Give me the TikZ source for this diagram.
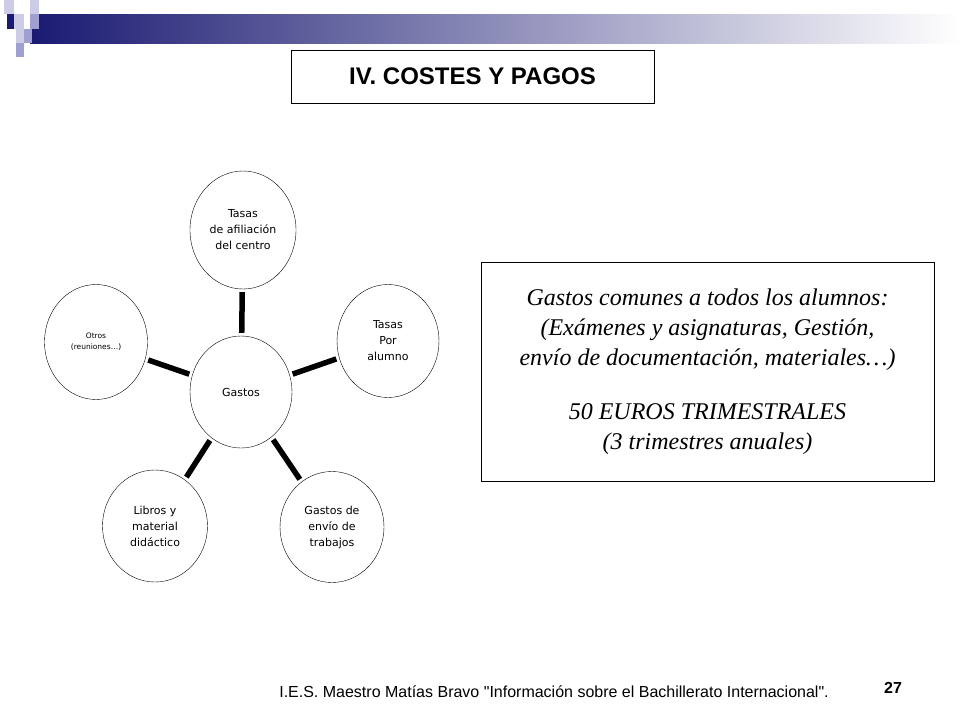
\documentclass[tikz,border=0pt]{standalone}
\usepackage{fontspec}
\setmainfont{Liberation Serif}
\setsansfont{DejaVu Sans}
\newfontfamily\titlefont{Liberation Sans}
\usetikzlibrary{shapes.geometric}
\definecolor{navy}{HTML}{1A1A72}
\definecolor{lav}{HTML}{A0A0D0}
\definecolor{lavlight}{HTML}{CCCCE6}
\tikzset{
  bubble/.style={draw, ellipse, minimum width=#1, align=center, font=\sffamily\fontsize{11}{16}\selectfont},
  spoke/.style={line width=5.5pt},
}
\begin{document}
\begin{tikzpicture}[x=1pt,y=-1pt]
  \useasboundingbox (0,0) rectangle (960,720);
  % header
  \shade[left color=navy, right color=white] (30,14) rectangle (960,43);
  \fill[lavlight] (4,0) rectangle (14,14);
  \fill[lavlight] (30,0) rectangle (39,14);
  \fill[navy] (7,14) rectangle (16,29);
  \fill[lavlight] (14,14) rectangle (24,29);
  \fill[lav] (30,14) rectangle (39,29);
  \fill[lavlight] (16,29) rectangle (24,43);
  \fill[lav] (24,29) rectangle (32,43);
  \fill[lav] (16,43) rectangle (24,57);
  % title
  \node[draw, minimum width=363pt, minimum height=53pt, font=\titlefont\bfseries\fontsize{24}{28}\selectfont] (title) at (472.5,76.5) {IV. COSTES Y PAGOS};
  % bubbles
  \node[bubble, minimum width=102pt, minimum height=112pt] (gastos) at (241,392) {Gastos};
  \node[bubble, minimum width=106pt, minimum height=118pt] (afil) at (243,230) {Tasas\\de afiliación\\del centro};
  \node[bubble, minimum width=102pt, minimum height=113pt] (alumno) at (388,341) {Tasas\\Por\\alumno};
  \node[bubble, minimum width=103pt, minimum height=115pt, font=\sffamily\fontsize{7.5}{11}\selectfont] (otros) at (96,342) {Otros\\(reuniones…)};
  \node[bubble, minimum width=105pt, minimum height=112pt] (libros) at (155,526) {Libros y\\material\\didáctico};
  \node[bubble, minimum width=104pt, minimum height=111pt] (envio) at (332,527) {Gastos de\\envío de\\trabajos};
  \foreach \n in {afil,alumno,otros,libros,envio}
    \draw[spoke, shorten <=3pt, shorten >=3pt] (gastos) -- (\n);
  % text box
  \node[draw, minimum width=453pt, minimum height=219pt, align=center, font=\itshape\fontsize{24}{30}\selectfont] (comunes) at (707.5,371.5)
    {Gastos comunes a todos los alumnos:\\(Exámenes y asignaturas, Gestión,\\envío de documentación, materiales…)\\[24pt]50 EUROS TRIMESTRALES\\(3 trimestres anuales)};
  % footer
  \node[font=\titlefont\fontsize{16}{18}\selectfont] (pie) at (554,692) {I.E.S. Maestro Matías Bravo "Información sobre el Bachillerato Internacional".};
  \node[font=\titlefont\bfseries\fontsize{16}{18}\selectfont] (pagina) at (893,688) {27};
\end{tikzpicture}
\end{document}
